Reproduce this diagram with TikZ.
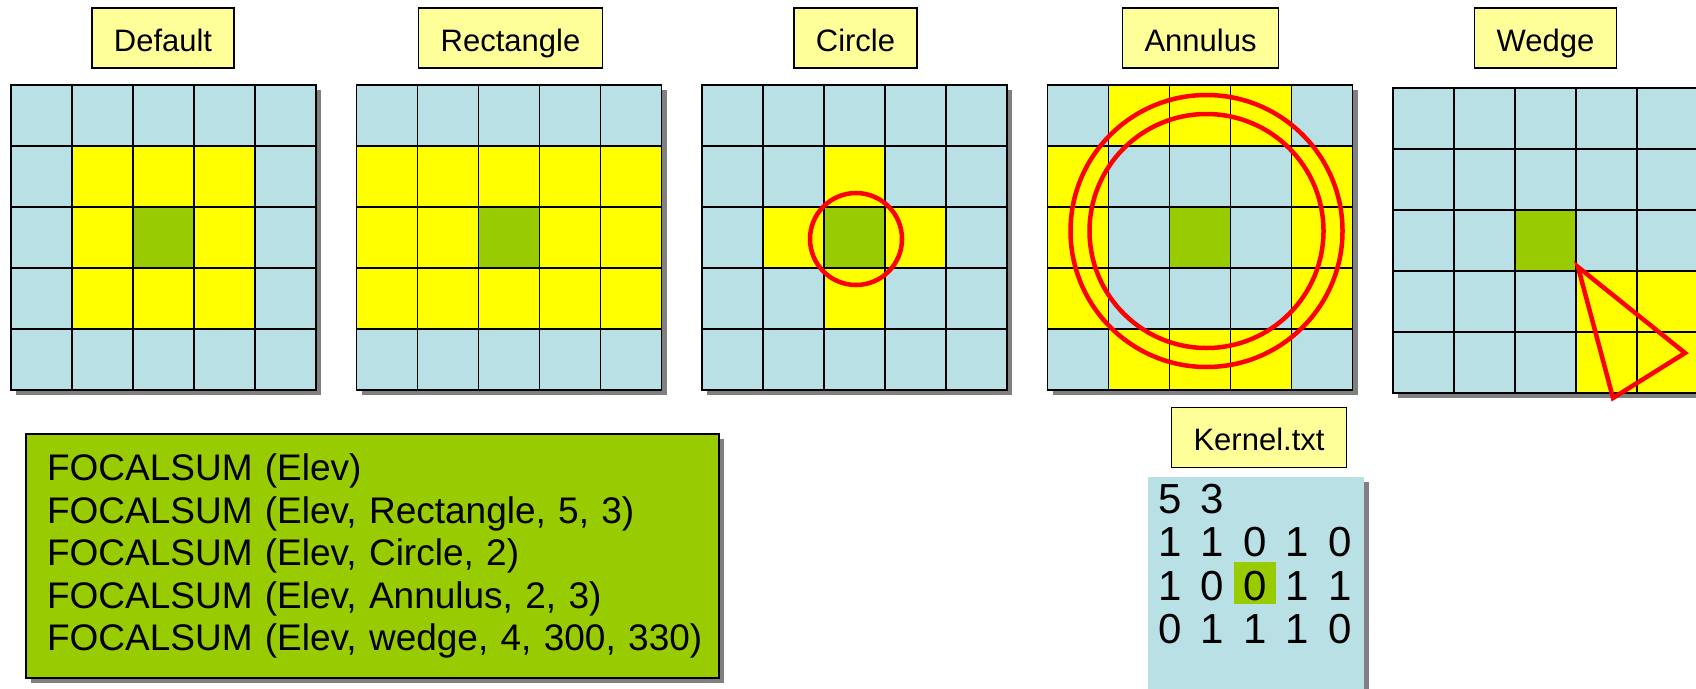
\documentclass[tikz,border=0pt]{standalone}
\usepackage{fontspec}
\setmainfont{Liberation Sans}
\usetikzlibrary{shadows}

\definecolor{cellblue}{RGB}{185,224,228}
\definecolor{ringyellow}{RGB}{255,255,0}
\definecolor{focusgreen}{RGB}{153,204,0}
\definecolor{tagyellow}{RGB}{255,255,153}
\definecolor{shadowgray}{RGB}{128,128,128}

\begin{document}
\begin{tikzpicture}[
    x=1pt, y=-1pt,
    tag/.style={draw, fill=tagyellow, line width=1.5pt, minimum height=60pt, inner xsep=22pt,
        text height=26pt, text depth=0pt, font=\fontsize{31}{36}\selectfont},
    gridline/.style={line width=1.9pt},
    ring/.style={draw=red, line width=4.5pt},
    boxshadow/.style={drop shadow={shadow xshift=5pt, shadow yshift=-5pt, fill=shadowgray, opacity=1}},
    callbox/.style={draw, fill=focusgreen, line width=1.5pt, boxshadow, minimum width=693pt,
        minimum height=244pt, text width=651pt, inner xsep=21pt, align=left,
        font=\fontsize{37}{42.5}\selectfont},
    kernbox/.style={fill=cellblue, boxshadow, minimum width=216pt, minimum height=230pt, inner sep=0pt},
    digit/.style={anchor=base, inner sep=0pt, font=\fontsize{42}{42}\selectfont}
]
\useasboundingbox (0,0) rectangle (1696,688);

% the five 5x5 windows: left, top, yellow cells (column/row)
\foreach \gx/\gy/\cells in {
    11/85/{2/2,3/2,4/2,2/3,4/3,2/4,3/4,4/4},
    356.5/85/{1/2,2/2,3/2,4/2,5/2,1/3,2/3,4/3,5/3,1/4,2/4,3/4,4/4,5/4},
    702/85/{3/2,2/3,4/3,3/4},
    1047.5/85/{2/1,3/1,4/1,1/2,5/2,1/3,5/3,1/4,5/4,2/5,3/5,4/5},
    1393/88/{4/4,5/4,4/5,5/5}} {
  \fill[shadowgray] ({\gx+5},{\gy+5}) rectangle ++(305,305);
  \fill[cellblue] (\gx,\gy) rectangle ++(305,305);
  \foreach \c/\r in \cells
    \fill[ringyellow] ({\gx+61*(\c-1)},{\gy+61*(\r-1)}) rectangle ++(61,61);
  \fill[focusgreen] ({\gx+122},{\gy+122}) rectangle ++(61,61);
  \foreach \i in {1,...,4} {
    \draw[gridline] ({\gx+61*\i},\gy) -- ++(0,305);
    \draw[gridline] (\gx,{\gy+61*\i}) -- ++(305,0);
  }
  \draw[gridline] (\gx,\gy) rectangle ++(305,305);
}

\node[tag] (deftag) at (163,38) {Default};
\node[tag] (recttag) at (510.5,38) {Rectangle};
\node[tag] (circtag) at (855.5,38) {Circle};
\node[tag] (anntag) at (1200.5,38) {Annulus};
\node[tag] (wedgetag) at (1545.5,38) {Wedge};

% neighbourhood outlines
\draw[ring] (856,239) circle[radius=46pt];
\draw[ring] (1206.5,231) circle[radius=136pt];
\draw[ring] (1206.5,231) circle[radius=117pt];
\draw[ring, line join=miter] (1578,267) -- (1685,353) -- (1613,398) -- cycle;

\node[callbox] (calls) at (372.5,556) {\mbox{FOCALSUM (Elev)}\\
\mbox{FOCALSUM (Elev, Rectangle, 5, 3)}\\
\mbox{FOCALSUM (Elev, Circle, 2)}\\
\mbox{FOCALSUM (Elev, Annulus, 2, 3)}\\
\mbox{FOCALSUM (Elev, wedge, 4, 300, 330)}};

% kernel file
\node[tag] (kerntag) at (1259,437.5) {Kernel.txt};
\node[kernbox, anchor=north west] (kernel) at (1148,477) {};
\fill[focusgreen] (1234,562) rectangle (1276,604);
\foreach \row/\vals in {1/{5,3}, 2/{1,1,0,1,0}, 3/{1,0,0,1,1}, 4/{0,1,1,1,0}}
  \foreach \d [count=\col] in \vals
    \node[digit] (k-\row-\col) at ({1127.5+42.5*\col},{469.5+43.5*\row}) {\d};
\end{tikzpicture}
\end{document}
